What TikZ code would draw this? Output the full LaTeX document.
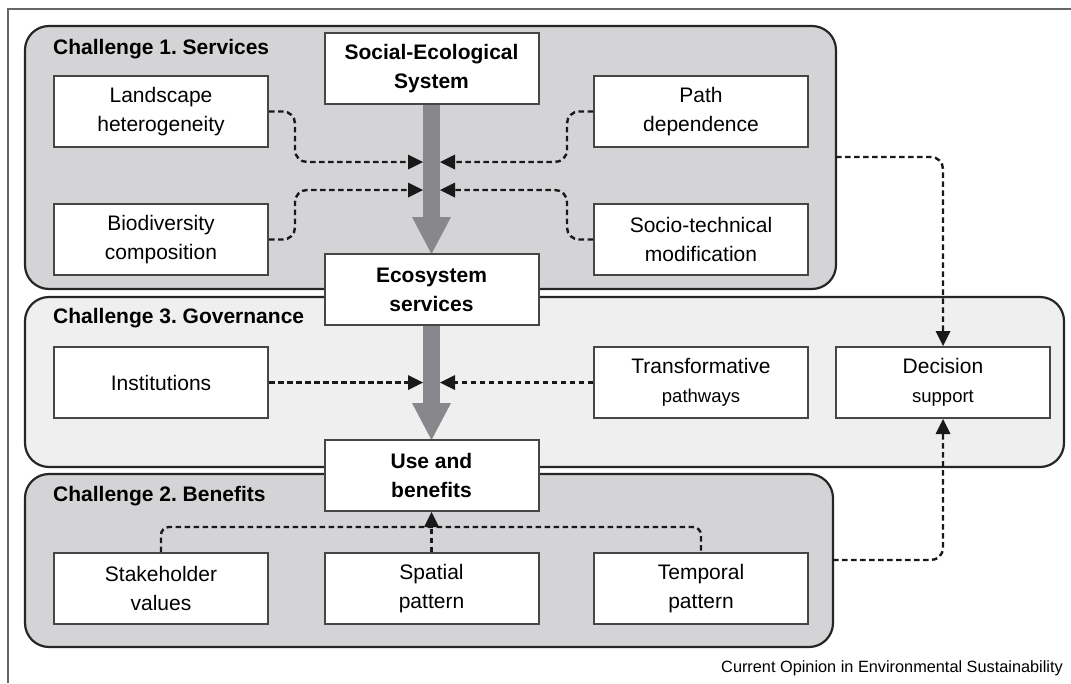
\documentclass[tikz,border=0pt]{standalone}
\usepackage{fontspec}
\setmainfont{Liberation Sans}
\usetikzlibrary{arrows.meta}
\definecolor{darkpanel}{RGB}{212,212,214}
\definecolor{lightpanel}{RGB}{239,239,239}
\definecolor{arrowgray}{RGB}{136,136,140}
\definecolor{boxline}{RGB}{70,70,70}
\tikzstyle{panel} = [draw=black!85, line width=2.2pt, rounded corners=24pt]
\tikzstyle{box} = [draw=boxline, line width=2pt, fill=white, minimum width=214pt, minimum height=71pt, align=center, inner sep=0pt, font=\fontsize{21}{29}\selectfont]
\tikzstyle{keybox} = [box, font=\fontsize{21}{29}\selectfont\bfseries]
\tikzstyle{title} = [anchor=west, inner sep=0pt, font=\fontsize{21}{25}\selectfont\bfseries]
\tikzstyle{flow} = [line width=17pt, draw=arrowgray, -{Triangle[width=39pt,length=37pt,line width=0pt]}]
\tikzstyle{link} = [line width=2.4pt, black!90, dash pattern=on 5.5pt off 3.5pt, rounded corners=12pt]
\tikzstyle{arrow} = [link, -{Triangle[width=15pt,length=15pt,line width=0pt]}]
\newcommand{\smalltext}{\fontsize{18.5}{24}\selectfont}
\frenchspacing

\begin{document}
\begin{tikzpicture}[x=1pt,y=-1pt]
\useasboundingbox (0,0) rectangle (1071,683);
\draw[line width=1.5pt, draw=black!60] (8,683) -- (8,9) -- (1071,9);

\draw[panel, fill=darkpanel] (25,26) rectangle (836,289);
\draw[panel, fill=lightpanel] (25,297) rectangle (1064,467);
\draw[panel, fill=darkpanel] (25,474) rectangle (833,647);

\node[title] (t1) at (53,49) {Challenge 1. Services};
\node[title] (t3) at (53,318) {Challenge 3. Governance};
\node[title] (t2) at (53,496) {Challenge 2. Benefits};

\node[box] (land) at (161,111.5) {Landscape\\heterogeneity};
\node[box] (bio) at (161,239.5) {Biodiversity\\composition};
\node[box] (path) at (701,111.5) {Path\\dependence};
\node[box] (socio) at (701,239.5) {Socio-technical\\modification};
\node[box] (inst) at (161,382.5) {Institutions};
\node[box] (trans) at (701,382.5) {Transformative\\{\smalltext pathways}};
\node[box] (dec) at (943,382.5) {Decision\\{\smalltext support}};
\node[box] (stake) at (161,588.5) {Stakeholder\\values};
\node[box] (spat) at (431.5,588.5) {Spatial\\pattern};
\node[box] (temp) at (701,588.5) {Temporal\\pattern};

\draw[flow] (431.5,104) -- (431.5,254);
\draw[flow] (431.5,325) -- (431.5,440);

\node[keybox] (ses) at (431.5,68.5) {Social-Ecological\\System};
\node[keybox] (es) at (431.5,289.5) {Ecosystem\\services};
\node[keybox] (ub) at (431.5,475.5) {Use and\\benefits};

\foreach \y/\n in {162/1,190/2,382.5/3}
{
 \coordinate (inL\n) at (423,\y);
 \coordinate (inR\n) at (440,\y);
}
\coordinate (c1out) at (836,157);
\coordinate (c2out) at (833,560);
\coordinate (bus) at (431.5,527);

\draw[arrow] (land.east) -- (295,111.5) -- (295,162) -- (inL1);
\draw[arrow] (bio.east) -- (295,239.5) -- (295,190) -- (inL2);
\draw[arrow] (path.west) -- (567,111.5) -- (567,162) -- (inR1);
\draw[arrow] (socio.west) -- (567,239.5) -- (567,190) -- (inR2);
\draw[arrow] (inst.east) -- (inL3);
\draw[arrow] (trans.west) -- (inR3);
\draw[arrow] (c1out) -| (dec.north);
\draw[arrow] (c2out) -| (dec.south);
\draw[link, rounded corners=8pt] (stake.north) |- (bus) -| (temp.north);
\draw[arrow] (spat.north) -- (ub.south);

\node[anchor=east, inner sep=0pt, font=\fontsize{16.3}{20}\selectfont] (src) at (1063,668) {Current Opinion in Environmental Sustainability};
\end{tikzpicture}
\end{document}
